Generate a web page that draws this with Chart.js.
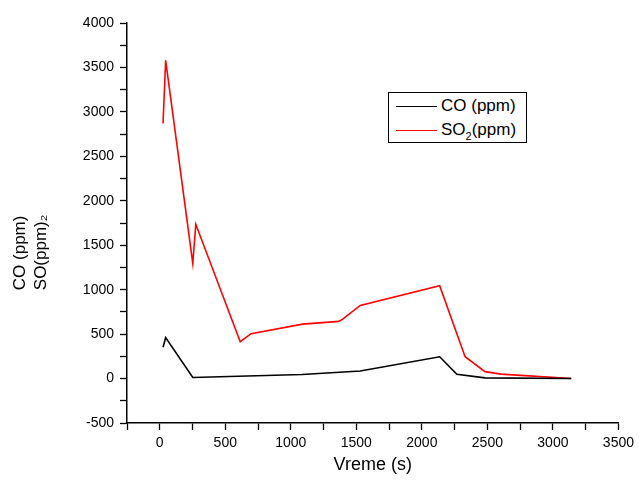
<!DOCTYPE html>
<html>
<head>
<meta charset="utf-8">
<script src="https://cdn.jsdelivr.net/npm/chart.js@4/dist/chart.umd.min.js"></script>
<style>
body{margin:0;background:#fff;}
#wrap{position:relative;width:639px;height:480px;}
#legend{position:absolute;left:388px;top:92px;width:139px;height:51px;border:1px solid #000;box-sizing:border-box;background:#fff;font-family:"Liberation Sans",Arial,sans-serif;font-size:17px;}
#legend .row{display:flex;align-items:center;height:24px;padding-left:7px;}
#legend .row:first-child{margin-top:1px;}
#legend .swatch{width:41px;height:0;border-top:1.5px solid #000;margin-right:4px;}
#legend .sub{font-size:11px;position:relative;top:6px;}
</style>
</head>
<body>
<div id="wrap">
<canvas id="coGraph" width="639" height="480"></canvas>
<div id="legend"></div>
</div>
<script>
var xTitle="Vreme (s)";
var yTitle=["CO (ppm)","SO(ppm)\u2082"];
var coLabel="CO (ppm)";
var so2Label="SO<span class='sub'>2</span>(ppm)";
var coTime=[25,45,252,1086,1530,2136,2267,2482,3140];
var coData=[352,460,12,45,85,245,48,8,0];
var so2Time=[25,45,252,275,614,697,1090,1366,1396,1530,2136,2330,2482,2603,3140];
var so2Data=[2870,3580,1295,1735,415,505,612,643,668,822,1045,246,78,50,0];

function toPoints(xs,ys){
	var pts=[];
	for(var i=0;i<xs.length;i++){
		pts.push({x:xs[i],y:ys[i]});
	}
	return pts;
};

var fontName="'Liberation Sans', Arial, sans-serif";

// y title: two lines, anchored low on the axis like the original plot
var yTitlePlugin={
	id:"yTitle",
	afterDraw:function(chart){
		var c=chart.ctx;
		var anchor=chart.chartArea.top+(chart.chartArea.bottom-chart.chartArea.top)*0.668;
		var xs=[20,41];
		c.save();
		c.fillStyle="#000";
		c.font="17px "+fontName;
		c.textAlign="left";
		c.textBaseline="middle";
		for(var i=0;i<yTitle.length;i++){
			c.save();
			c.translate(xs[i],anchor);
			c.rotate(-Math.PI/2);
			c.fillText(yTitle[i],0,0);
			c.restore();
		}
		c.restore();
	}
};

var chartData={
	datasets:[
		{
			label:"CO (ppm)",
			data:toPoints(coTime,coData),
			borderColor:"#000000",
			backgroundColor:"#000000",
			borderWidth:1.6,
			pointRadius:0,
			fill:false,
			tension:0
		},
		{
			label:"SO2(ppm)",
			data:toPoints(so2Time,so2Data),
			borderColor:"#ff0000",
			backgroundColor:"#ff0000",
			borderWidth:1.6,
			pointRadius:0,
			fill:false,
			tension:0
		}]
};

function majorOnly(value){
	return (value%500===0)?value:"";
};

var ctx=document.getElementById("coGraph").getContext("2d");
var lineChart=new Chart(ctx,{
	type:"line",
	data:chartData,
	plugins:[yTitlePlugin],
	options:{
		responsive:false,
		animation:false,
		layout:{padding:{top:23,right:0,left:0,bottom:0}},
		plugins:{legend:{display:false},tooltip:{enabled:false}},
		scales:{
			x:{
				type:"linear",
				min:-250,
				max:3500,
				afterFit:function(scale){scale.height=57;},
				border:{display:true,color:"#000",width:1.5},
				grid:{display:true,drawOnChartArea:false,drawTicks:true,tickLength:7,tickColor:"#000",tickWidth:1.3},
				ticks:{stepSize:250,autoSkip:false,maxRotation:0,color:"#000",padding:5,font:{family:fontName,size:14},callback:majorOnly},
				title:{display:true,text:xTitle,color:"#000",font:{family:fontName,size:18},padding:{top:7}}
			},
			y:{
				min:-500,
				max:4000,
				afterFit:function(scale){scale.width=127;},
				border:{display:true,color:"#000",width:1.5},
				grid:{display:true,drawOnChartArea:false,drawTicks:true,tickLength:7,tickColor:"#000",tickWidth:1.3},
				ticks:{stepSize:250,autoSkip:false,color:"#000",padding:6,font:{family:fontName,size:14},callback:majorOnly}
			}
		}
	}
});

var legendHtml="";
legendHtml+="<div class='row'><span class='swatch' style='border-color:#000'></span>"+coLabel+"</div>";
legendHtml+="<div class='row'><span class='swatch' style='border-color:#ff0000'></span>"+so2Label+"</div>";
document.getElementById("legend").innerHTML=legendHtml;
</script>
</body>
</html>
